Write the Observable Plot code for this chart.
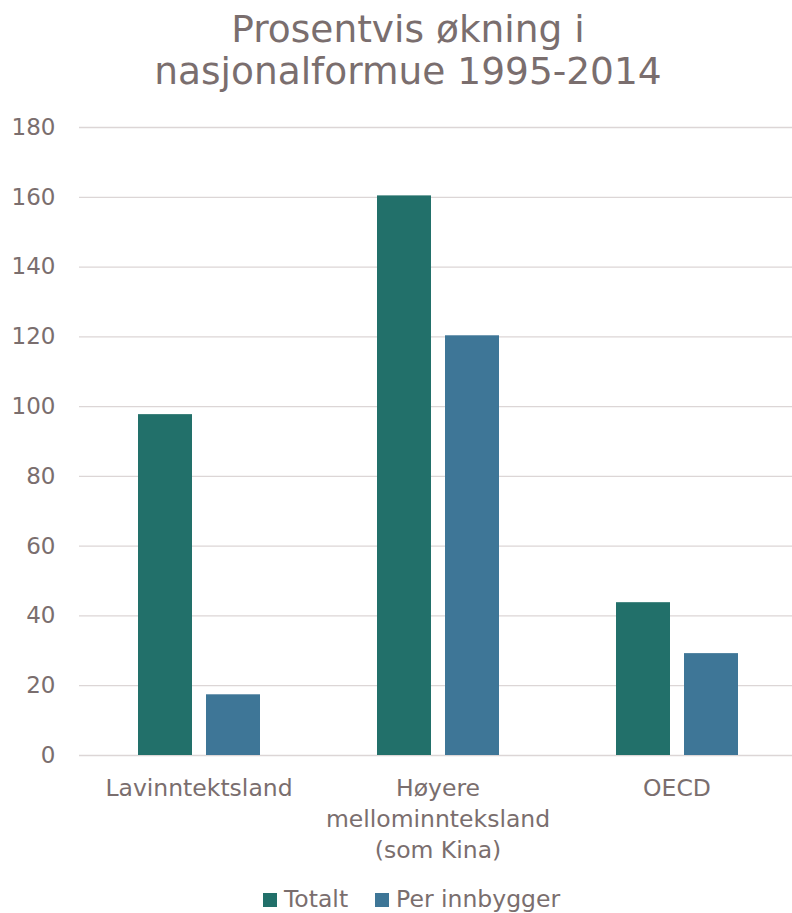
<!DOCTYPE html>
<html>
<head>
<meta charset="utf-8">
<script src="https://cdn.jsdelivr.net/npm/d3@7"></script>
<script src="https://cdn.jsdelivr.net/npm/@observablehq/plot@0.6"></script>
<style>
  body { margin: 0; background: #fff; font-family: "DejaVu Sans", Verdana, sans-serif; color: #7a6e6e; }
  #wrap { position: relative; width: 792px; height: 913px; overflow: hidden; }
  #title { height: 92px; padding-top: 8px; padding-left: 24px; text-align: center; font-size: 37.5px; line-height: 42px; color: #7a6e6e; }
  #chart { position: absolute; left: 0; top: 100px; width: 800px; }
  #chart svg { display: block; max-width: none !important; }
  #legend { position: absolute; left: 263px; top: 884px; display: flex; font-size: 23.5px; line-height: 30px; color: #7a6e6e; white-space: nowrap; }
  .item { display: flex; align-items: center; margin-right: 27px; }
  .sw { width: 14px; height: 14px; margin-right: 7px; margin-top: 2px; }
</style>
</head>
<body>
<div id="wrap">
  <div id="title">Prosentvis økning i<br>nasjonalformue 1995-2014</div>
  <div id="chart"></div>
  <div id="legend"></div>
</div>
<script>
const categories = ["Lavinntektsland", "Høyere\nmellominnteksland\n(som Kina)", "OECD"];
const series = ["Totalt", "Per innbygger"];
const totalt = [97.7, 160.4, 43.8];
const perInnbygger = [17.4, 120.3, 29.2];
const yTicks = [0, 20, 40, 60, 80, 100, 120, 140, 160, 180];
const colors = ["#22706a", "#3e7697"];

const data = [];
categories.forEach((c, i) => {
  data.push({category: c, series: series[0], value: totalt[i]});
  data.push({category: c, series: series[1], value: perInnbygger[i]});
});

const chart = Plot.plot({
  width: 796,
  height: 770,
  marginTop: 27,
  marginBottom: 115,
  marginLeft: 79,
  marginRight: 0,
  style: {fontFamily: "DejaVu Sans, Verdana, sans-serif", color: "#7a6e6e", background: "#fff"},
  fx: {domain: categories, paddingInner: 0, paddingOuter: 0, label: null},
  x: {domain: series, paddingInner: 0.206, paddingOuter: 0.85, axis: null},
  y: {domain: [0, 180], label: null},
  color: {domain: series, range: colors},
  marks: [
    Plot.gridY(yTicks, {stroke: "#dcd6d6", strokeOpacity: 1, strokeWidth: 1.3}),
    Plot.axisY(yTicks, {tickSize: 0, tickPadding: 24, fontSize: 23, label: null}),
    Plot.axisFx({anchor: "bottom", tickSize: 0, tickPadding: 18, fontSize: 23.5, lineHeight: 1.32, label: null}),
    Plot.barY(data, {fx: "category", x: "series", y: "value", fill: "series"})
  ]
});
document.getElementById("chart").appendChild(chart);

const legend = document.getElementById("legend");
series.forEach((s, i) => {
  const item = document.createElement("div");
  item.className = "item";
  const sw = document.createElement("span");
  sw.className = "sw";
  sw.style.background = colors[i];
  const t = document.createElement("span");
  t.textContent = s;
  item.appendChild(sw);
  item.appendChild(t);
  legend.appendChild(item);
});
</script>
</body>
</html>
